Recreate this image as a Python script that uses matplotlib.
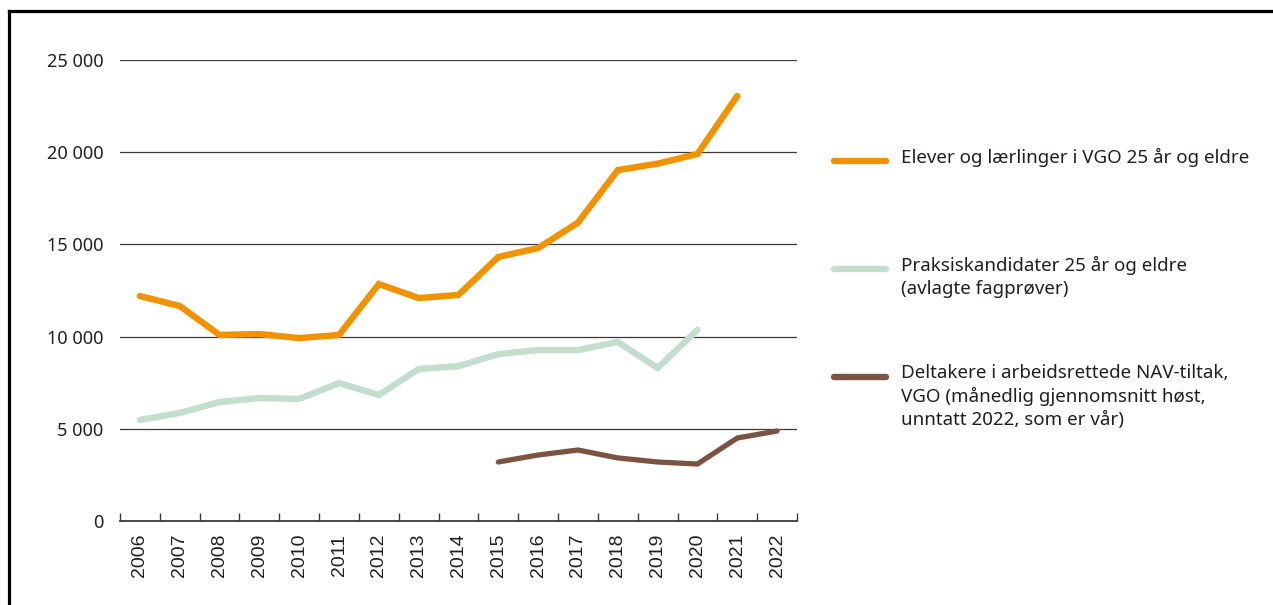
import numpy as np
import matplotlib.pyplot as plt
from matplotlib.lines import Line2D

years = [str(y) for y in range(2006, 2023)]

# Elever og laerlinger i VGO 25 aar og eldre (2006-2021)
elever = [12200, 11660, 10090, 10140, 9920, 10090, 12850, 12090, 12260,
          14320, 14800, 16180, 19030, 19380, 19900, 23050, np.nan]
# Praksiskandidater 25 aar og eldre (2006-2020)
praksis = [5480, 5860, 6450, 6670, 6620, 7480, 6830, 8240, 8400,
           9050, 9270, 9270, 9710, 8300, 10360, np.nan, np.nan]
# NAV-tiltak (2015-2022)
nav = [np.nan] * 9 + [3200, 3580, 3850, 3420, 3200, 3090, 4500, 4880]

labels = ["Elever og lærlinger i VGO 25 år og eldre",
          "Praksiskandidater 25 år og eldre\n(avlagte fagprøver)",
          "Deltakere i arbeidsrettede NAV-tiltak,\nVGO (månedlig gjennomsnitt høst,\nunntatt 2022, som er vår)"]
colors = ["#F39200", "#C3DECE", "#7A5343"]
widths = [4.6, 4.6, 3.8]

TEXT_FONT = ["Noto Sans", "DejaVu Sans"]
TEXT_COLOR = "#231F20"

fig = plt.figure(figsize=(12.73, 6.05), dpi=100)
ax = fig.add_axes([120 / 1273, 84 / 605, 677 / 1273, 461 / 605])

x = np.arange(len(years))
for values, color, lw in zip([elever, praksis, nav], colors, widths):
    ax.plot(x, values, color=color, lw=lw, solid_capstyle="round",
            solid_joinstyle="miter", zorder=3)

ax.set_xlim(-0.5, len(years) - 0.5)
ax.set_ylim(0, 25000)

yticks = np.arange(0, 25001, 5000)
ax.set_yticks(yticks)
ax.set_yticklabels([f"{v:,}".replace(",", " ") for v in yticks],
                   family=TEXT_FONT, fontsize=13, color=TEXT_COLOR)
ax.tick_params(axis="y", length=0, pad=12)
for v in yticks[1:]:
    ax.axhline(v, color="#3a3a3a", lw=0.9, zorder=1)

ax.set_xticks(x)
ax.set_xticklabels(years, rotation=90, family="Liberation Sans",
                   fontsize=14, color=TEXT_COLOR)
ax.tick_params(axis="x", which="major", length=0, pad=9)
ax.set_xticks(np.arange(-0.5, len(years)), minor=True)
ax.tick_params(axis="x", which="minor", direction="in", length=5.5,
               width=1, color="#3a3a3a")

for side in ("top", "right", "left"):
    ax.spines[side].set_visible(False)
ax.spines["bottom"].set_color("#3a3a3a")
ax.spines["bottom"].set_linewidth(1.3)

# legende a droite, construite a la main
leg_y = [161, 269, 377]
for label, color, ypix in zip(labels, colors, leg_y):
    yf = 1 - ypix / 605
    fig.add_artist(Line2D([834 / 1273, 886 / 1273], [yf, yf], color=color,
                          lw=4.6, solid_capstyle="round"))
    fig.text(901 / 1273, yf + 13 / 605, label, family=TEXT_FONT, fontsize=13.5,
             color=TEXT_COLOR, va="top", ha="left", linespacing=1.35)

# cadre (haut et gauche)
fig.add_artist(Line2D([9 / 1273, 1], [1 - 11 / 605, 1 - 11 / 605], color="black", lw=2.3))
fig.add_artist(Line2D([9 / 1273, 9 / 1273], [0, 1 - 11 / 605], color="black", lw=2.3))

fig.savefig("out.png", dpi=100)
